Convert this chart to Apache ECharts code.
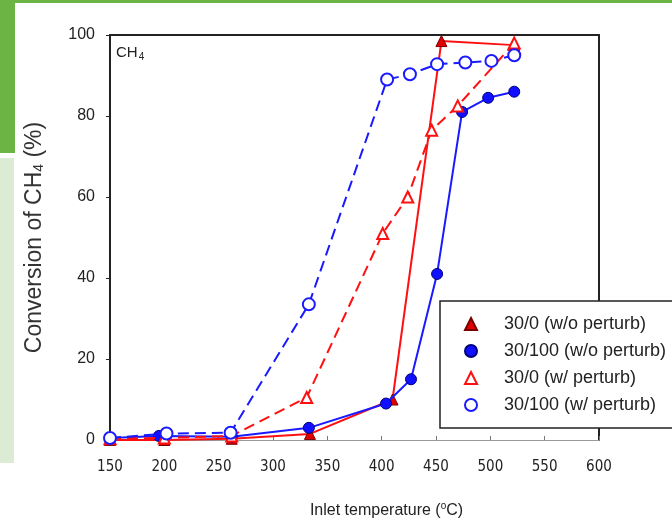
<!DOCTYPE html>
<html>
<head>
<meta charset="utf-8">
<script src="https://cdn.jsdelivr.net/npm/echarts@6/dist/echarts.min.js"></script>
<style>
html,body{margin:0;padding:0;background:#fff;}
#chart{width:672px;height:529px;}
</style>
</head>
<body>
<div id="chart"></div>
<script>
// ---- data ----
const xTicks = [150, 200, 250, 300, 350, 400, 450, 500, 550, 600];
const yTicks = [0, 20, 40, 60, 80, 100];

const s1Name = '30/0 (w/o perturb)';
const s1T = [150, 200, 262, 334, 410, 455, 522];
const s1V = [0, 0, 0.3, 1.5, 10, 98.5, 97.5];

const s2Name = '30/100 (w/o perturb)';
const s2T = [150, 195, 262, 333, 404, 427, 451, 474, 498, 522];
const s2V = [0.5, 1, 0.8, 3, 9, 15, 41, 81, 84.5, 86];

const s3Name = '30/0 (w/ perturb)';
const s3T = [150, 200, 262, 331, 401, 424, 446, 470, 522];
const s3V = [0.3, 0.5, 1, 10.5, 51, 60, 76.5, 82.5, 98];

const s4Name = '30/100 (w/ perturb)';
const s4T = [150, 202, 261, 333, 405, 426, 451, 477, 501, 522];
const s4V = [0.5, 1.6, 1.8, 33.5, 89, 90.3, 92.8, 93.2, 93.6, 95];

function pairs(t, v) { return t.map((x, i) => [x, v[i]]); }

const RED = '#ff1010';
const BLUE = '#1a1aff';
const tickFont = "'DejaVu Sans Condensed','Liberation Sans',Arial,sans-serif";
const txtFont = "'Liberation Sans',Arial,sans-serif";

const chart = echarts.init(document.getElementById('chart'), null, {renderer: 'canvas'});
const option = {
  backgroundColor: '#ffffff',
  animation: false,
  grid: {left: 110, right: 73, top: 35, bottom: 89, containLabel: false},
  xAxis: [{
    type: 'value', position: 'bottom',
    min: xTicks[0], max: xTicks[xTicks.length - 1], interval: xTicks[1] - xTicks[0],
    axisLine: {show: true, onZero: false, lineStyle: {color: '#9a9a9a', width: 1}},
    axisTick: {show: true, inside: true, length: 4, lineStyle: {color: '#777'}},
    axisLabel: {fontSize: 15, fontFamily: tickFont, color: '#222', margin: 20},
    splitLine: {show: false},
    name: 'Inlet temperature ({sup|o}C)',
    nameLocation: 'middle', nameGap: 61,
    nameTextStyle: {fontSize: 16, fontFamily: txtFont, color: '#222', padding: [0, 0, 0, 64],
      rich: {sup: {fontSize: 10, fontFamily: txtFont, color: '#222', verticalAlign: 'top', padding: [0, 0, 9, 0]}}}
  }, {
    type: 'value', position: 'top',
    min: xTicks[0], max: xTicks[xTicks.length - 1], interval: xTicks[1] - xTicks[0],
    axisLine: {show: true, onZero: false, lineStyle: {color: '#222', width: 2}},
    axisTick: {show: false}, axisLabel: {show: false}, splitLine: {show: false}
  }],
  yAxis: [{
    type: 'value', position: 'left',
    min: yTicks[0], max: yTicks[yTicks.length - 1], interval: yTicks[1] - yTicks[0],
    axisLine: {show: true, onZero: false, lineStyle: {color: '#222', width: 2}},
    axisTick: {show: true, inside: false, length: 4, lineStyle: {color: '#222'}},
    axisLabel: {fontSize: 16, fontFamily: txtFont, color: '#222', margin: 15},
    splitLine: {show: false},
    name: 'Conversion of CH{sub|4} (%)',
    nameLocation: 'middle', nameGap: 64, nameRotate: 90,
    nameTextStyle: {fontSize: 23, fontFamily: txtFont, color: '#333',
      rich: {sub: {fontSize: 14, fontFamily: txtFont, color: '#333', verticalAlign: 'bottom', padding: [9, 0, 0, 0]}}}
  }, {
    type: 'value', position: 'right',
    min: yTicks[0], max: yTicks[yTicks.length - 1], interval: yTicks[1] - yTicks[0],
    axisLine: {show: true, onZero: false, lineStyle: {color: '#222', width: 2}},
    axisTick: {show: false}, axisLabel: {show: false}, splitLine: {show: false}
  }],
  legend: {
    left: 440, top: 301, orient: 'vertical',
    padding: [14, 30, 14, 24],
    itemWidth: 12, itemHeight: 12, itemGap: 9,
    backgroundColor: '#ffffff', borderColor: '#222', borderWidth: 1.5, borderRadius: 0,
    textStyle: {fontSize: 18, fontFamily: txtFont, color: '#222', padding: [0, 0, 0, 22]},
    data: [
      {name: s1Name, icon: 'triangle'},
      {name: s2Name, icon: 'circle'},
      {name: s3Name, icon: 'emptyTriangle'},
      {name: s4Name, icon: 'emptyCircle'}
    ],
    z: 10
  },
  graphic: [
    {type: 'rect', left: 0, top: 0, shape: {width: 672, height: 3}, style: {fill: '#6cb545'}, silent: true},
    {type: 'rect', left: 0, top: 0, shape: {width: 15, height: 153}, style: {fill: '#6cb545'}, silent: true},
    {type: 'rect', left: 0, top: 158, shape: {width: 14, height: 305}, style: {fill: '#dcebd4'}, silent: true},
    {type: 'text', left: 116, top: 45, style: {
      text: 'CH{sub|4}', fontSize: 15, fontFamily: txtFont, fill: '#222',
      rich: {sub: {fontSize: 10, fontFamily: txtFont, fill: '#222', padding: [9, 0, 0, 1]}}}}
  ],
  series: [{
    name: s1Name, type: 'line', data: pairs(s1T, s1V),
    symbol: 'triangle', symbolSize: 11,
    lineStyle: {color: RED, width: 2, type: 'solid'},
    itemStyle: {color: '#e00000', borderColor: '#7a0000', borderWidth: 1}, z: 3
  }, {
    name: s2Name, type: 'line', data: pairs(s2T, s2V),
    symbol: 'circle', symbolSize: 11,
    lineStyle: {color: BLUE, width: 2, type: 'solid'},
    itemStyle: {color: '#1010ff', borderColor: '#00007a', borderWidth: 1}, z: 4
  }, {
    name: s3Name, type: 'line', data: pairs(s3T, s3V),
    symbol: 'emptyTriangle', symbolSize: 11,
    lineStyle: {color: RED, width: 2, type: [11, 6]},
    itemStyle: {color: RED, borderWidth: 1.2}, z: 5
  }, {
    name: s4Name, type: 'line', data: pairs(s4T, s4V),
    symbol: 'emptyCircle', symbolSize: 12,
    lineStyle: {color: BLUE, width: 2, type: [11, 6]},
    itemStyle: {color: BLUE, borderWidth: 1.2}, z: 6
  }]
};
chart.setOption(option);
</script>
</body>
</html>
